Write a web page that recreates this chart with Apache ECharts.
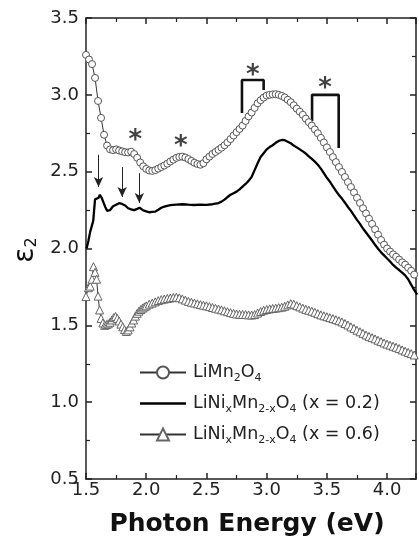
<!DOCTYPE html>
<html>
<head>
<meta charset="utf-8">
<script src="https://cdn.jsdelivr.net/npm/echarts@6/dist/echarts.min.js"></script>
<style>html,body{margin:0;padding:0;background:#fff}#chart{width:419px;height:545px}</style>
</head>
<body>
<div id="chart"></div>
<script>
// photon energy (eV), eps2
var lmo = [[1.500,3.26],[1.525,3.23],[1.550,3.20],[1.575,3.11],[1.600,2.96],[1.625,2.85],[1.650,2.74],[1.675,2.67],
  [1.700,2.645],[1.725,2.64],[1.750,2.645],[1.775,2.638],[1.800,2.632],[1.825,2.627],[1.850,2.625],[1.875,2.63],
  [1.900,2.615],[1.925,2.59],[1.950,2.56],[1.975,2.535],[2.000,2.518],[2.025,2.508],[2.050,2.505],[2.075,2.51],
  [2.100,2.52],[2.125,2.53],[2.150,2.54],[2.175,2.552],[2.200,2.566],[2.225,2.578],[2.250,2.59],[2.275,2.596],
  [2.300,2.598],[2.325,2.592],[2.350,2.582],[2.375,2.57],[2.400,2.558],[2.425,2.55],[2.450,2.545],[2.475,2.555],
  [2.500,2.58],[2.525,2.598],[2.550,2.615],[2.575,2.628],[2.600,2.642],[2.625,2.656],[2.650,2.672],[2.675,2.69],
  [2.700,2.712],[2.725,2.735],[2.750,2.757],[2.775,2.778],[2.800,2.80],[2.825,2.83],[2.850,2.86],[2.875,2.885],
  [2.900,2.915],[2.925,2.945],[2.950,2.965],[2.975,2.982],[3.000,2.995],[3.025,3.0],[3.050,3.003],[3.075,3.004],
  [3.100,3.0],[3.125,2.993],[3.150,2.983],[3.175,2.968],[3.200,2.952],[3.225,2.932],[3.250,2.91],[3.275,2.89],
  [3.300,2.87],[3.325,2.845],[3.350,2.822],[3.375,2.80],[3.400,2.775],[3.425,2.75],[3.450,2.72],[3.475,2.69],
  [3.500,2.658],[3.525,2.628],[3.550,2.595],[3.575,2.562],[3.600,2.53],[3.625,2.498],[3.650,2.465],[3.675,2.432],
  [3.700,2.40],[3.725,2.365],[3.750,2.33],[3.775,2.296],[3.800,2.262],[3.825,2.228],[3.850,2.194],[3.875,2.16],
  [3.900,2.125],[3.925,2.09],[3.950,2.055],[3.975,2.025],[4.000,2.0],[4.025,1.98],[4.050,1.962],[4.075,1.946],
  [4.100,1.928],[4.125,1.91],[4.150,1.895],[4.175,1.875],[4.200,1.855],[4.225,1.83],[4.250,1.81]];

var ni02 = [[1.505,2.00],[1.520,2.05],[1.535,2.11],[1.550,2.10],[1.560,2.18],[1.575,2.32],[1.590,2.32],[1.605,2.33],
  [1.615,2.35],[1.630,2.33],[1.645,2.30],[1.660,2.27],[1.675,2.245],[1.690,2.24],[1.700,2.25],[1.725,2.275],
  [1.750,2.285],[1.775,2.295],[1.800,2.29],[1.825,2.28],[1.850,2.262],[1.875,2.255],[1.900,2.25],[1.925,2.258],
  [1.945,2.265],[1.960,2.255],[1.975,2.248],[2.000,2.242],[2.025,2.236],[2.050,2.238],[2.075,2.24],[2.100,2.252],
  [2.125,2.265],[2.150,2.272],[2.175,2.278],[2.200,2.282],[2.250,2.285],[2.300,2.288],[2.350,2.285],[2.400,2.283],
  [2.450,2.285],[2.500,2.284],[2.550,2.288],[2.600,2.296],[2.625,2.305],[2.650,2.318],[2.675,2.335],[2.700,2.35],
  [2.725,2.36],[2.750,2.37],[2.775,2.385],[2.800,2.403],[2.825,2.42],[2.850,2.44],[2.875,2.465],[2.900,2.51],
  [2.925,2.555],[2.950,2.595],[2.975,2.62],[3.000,2.645],[3.025,2.66],[3.050,2.672],[3.075,2.688],[3.100,2.70],
  [3.125,2.706],[3.150,2.705],[3.175,2.695],[3.200,2.685],[3.225,2.67],[3.250,2.658],[3.275,2.645],[3.300,2.632],
  [3.325,2.618],[3.350,2.60],[3.375,2.583],[3.400,2.565],[3.425,2.545],[3.450,2.52],[3.475,2.49],[3.500,2.46],
  [3.525,2.435],[3.550,2.405],[3.575,2.375],[3.600,2.348],[3.625,2.325],[3.650,2.298],[3.675,2.27],[3.700,2.245],
  [3.725,2.215],[3.750,2.186],[3.775,2.16],[3.800,2.13],[3.825,2.104],[3.850,2.078],[3.875,2.052],[3.900,2.024],
  [3.925,1.998],[3.950,1.975],[3.975,1.955],[4.000,1.935],[4.025,1.915],[4.050,1.893],[4.075,1.875],[4.100,1.86],
  [4.125,1.843],[4.150,1.825],[4.175,1.80],[4.200,1.765],[4.225,1.73],[4.250,1.70]];

var ni06 = [[1.500,1.687],[1.520,1.745],[1.535,1.755],[1.550,1.80],[1.562,1.882],[1.575,1.845],[1.588,1.80],[1.600,1.69],
  [1.613,1.60],[1.625,1.545],[1.640,1.515],[1.655,1.50],[1.670,1.505],[1.685,1.51],[1.700,1.52],[1.715,1.535],
  [1.730,1.55],[1.745,1.558],[1.760,1.545],[1.775,1.528],[1.790,1.508],[1.805,1.49],[1.820,1.472],[1.835,1.46],
  [1.850,1.47],[1.865,1.49],[1.880,1.515],[1.895,1.535],[1.910,1.56],[1.925,1.578],[1.940,1.592],[1.955,1.603],
  [1.970,1.612],[1.985,1.62],[2.000,1.627],[2.025,1.638],[2.050,1.645],[2.075,1.653],[2.100,1.661],[2.125,1.667],
  [2.150,1.671],[2.175,1.675],[2.200,1.678],[2.225,1.681],[2.250,1.683],[2.275,1.679],[2.300,1.672],[2.325,1.664],
  [2.350,1.656],[2.375,1.65],[2.400,1.645],[2.425,1.64],[2.450,1.635],[2.475,1.631],[2.500,1.627],[2.525,1.622],
  [2.550,1.616],[2.575,1.611],[2.600,1.606],[2.625,1.601],[2.650,1.595],[2.675,1.589],[2.700,1.583],[2.725,1.578],
  [2.750,1.574],[2.775,1.572],[2.800,1.571],[2.825,1.57],[2.850,1.568],[2.875,1.567],[2.900,1.57],[2.925,1.58],
  [2.950,1.59],[2.975,1.598],[3.000,1.603],[3.025,1.607],[3.050,1.61],[3.075,1.612],[3.100,1.615],[3.125,1.618],
  [3.150,1.624],[3.175,1.633],[3.200,1.641],[3.225,1.638],[3.250,1.628],[3.275,1.62],[3.300,1.612],[3.325,1.604],
  [3.350,1.598],[3.375,1.592],[3.400,1.585],[3.425,1.576],[3.450,1.568],[3.475,1.562],[3.500,1.556],[3.525,1.55],
  [3.550,1.544],[3.575,1.537],[3.600,1.53],[3.625,1.522],[3.650,1.512],[3.675,1.502],[3.700,1.49],[3.725,1.48],
  [3.750,1.468],[3.775,1.458],[3.800,1.448],[3.825,1.437],[3.850,1.428],[3.875,1.42],[3.900,1.412],[3.925,1.403],
  [3.950,1.394],[3.975,1.385],[4.000,1.378],[4.025,1.371],[4.050,1.364],[4.075,1.357],[4.100,1.349],[4.125,1.34],
  [4.150,1.332],[4.175,1.324],[4.200,1.316],[4.225,1.307],[4.250,1.298]];

// annotations: arrows [E, from, to], asterisks [E, eps2], brackets
var arrows = [[1.604, 2.61, 2.40], [1.80, 2.53, 2.335], [1.943, 2.49, 2.296]];
var stars = [[1.91, 2.726], [2.287, 2.687], [2.885, 3.149], [3.484, 3.064]];
var bracketA = [[2.795, 2.882], [2.795, 3.097], [2.975, 3.097], [2.975, 3.031]];
var bracketB = [[3.377, 2.83], [3.377, 3.0], [3.598, 3.0], [3.598, 2.654]];

var names = ['LiMn2O4', 'LiNixMn2-xO4 (x = 0.2)', 'LiNixMn2-xO4 (x = 0.6)'];
var legendText = {
  'LiMn2O4': '{n|LiMn}{s|2}{n|O}{s|4}',
  'LiNixMn2-xO4 (x = 0.2)': '{n|LiNi}{s|x}{n|Mn}{s|2-x}{n|O}{s|4}{n| (x = 0.2)}',
  'LiNixMn2-xO4 (x = 0.6)': '{n|LiNi}{s|x}{n|Mn}{s|2-x}{n|O}{s|4}{n| (x = 0.6)}'
};

var font = 'DejaVu Sans';
var ink = '#222';

function axisCommon(pos) {
  return {
    axisLine: {show: true, onZero: false, lineStyle: {color: ink, width: 1.5}},
    axisTick: {show: true, inside: true, length: 6, lineStyle: {color: ink, width: 1.5}},
    minorTick: {show: true, splitNumber: 2, length: 4, lineStyle: {color: ink, width: 1.2}},
    splitLine: {show: false},
    position: pos
  };
}

var xBottom = Object.assign(axisCommon('bottom'), {
  type: 'value', min: 1.5, max: 4.24, interval: 0.5,
  axisLabel: {fontFamily: font, fontSize: 18, color: ink, margin: 2,
    formatter: function (v) { return v > 4.1 ? '' : v.toFixed(1); }},
  name: 'Photon Energy (eV)', nameLocation: 'middle', nameGap: 33,
  nameTextStyle: {fontFamily: font, fontSize: 25, fontWeight: 'bold', color: '#111', padding: [0, 8, 0, 0]}
});
var xTop = Object.assign(axisCommon('top'), {
  type: 'value', min: 1.5, max: 4.24, interval: 0.5, axisLabel: {show: false}
});
var yLeft = Object.assign(axisCommon('left'), {
  type: 'value', min: 0.5, max: 3.5, interval: 0.5,
  axisLabel: {fontFamily: font, fontSize: 18, color: ink, margin: 7,
    formatter: function (v) { return v.toFixed(1); }}
});
var yRight = Object.assign(axisCommon('right'), {
  type: 'value', min: 0.5, max: 3.5, interval: 0.5, axisLabel: {show: false}
});

var chart = echarts.init(document.getElementById('chart'), null, {renderer: 'canvas'});
chart.setOption({
  animation: false,
  backgroundColor: '#fff',
  grid: {left: 86, top: 18, right: -1.3, bottom: 66},
  xAxis: [xBottom, xTop],
  yAxis: [yLeft, yRight],
  graphic: [{
    type: 'text', x: 26, y: 250, rotation: Math.PI / 2,
    style: {
      text: '{e|ε}{s|2}', align: 'center', verticalAlign: 'middle',
      rich: {
        e: {fontFamily: font, fontSize: 28, fill: '#111'},
        s: {fontFamily: font, fontSize: 16, fill: '#111', padding: [12, 0, 0, 0]}
      }
    }
  }],
  legend: {
    orient: 'vertical', left: 134, top: 356, itemWidth: 46, itemHeight: 15, itemGap: 8,
    data: [names[0], {name: names[1], icon: 'path://M0,0H46V2.4H0Z'}, names[2]],
    formatter: function (name) { return legendText[name]; },
    textStyle: {
      padding: [0, 0, 0, 2],
      rich: {
        n: {fontFamily: font, fontSize: 17.5, color: ink, lineHeight: 20},
        s: {fontFamily: font, fontSize: 11, color: ink, lineHeight: 12, padding: [12, 0, 0, 0]}
      }
    }
  },
  series: [
    {
      name: names[0], type: 'line', data: lmo, symbol: 'circle', symbolSize: 7, showAllSymbol: true,
      itemStyle: {color: '#fff', borderColor: '#555', borderWidth: 1},
      lineStyle: {color: '#333', width: 1}, z: 3
    },
    {
      name: names[1], type: 'line', data: ni02, showSymbol: false, symbol: 'none',
      itemStyle: {color: '#000'}, lineStyle: {color: '#000', width: 2.3}, z: 2,
      markLine: {
        silent: true, animation: false,
        symbol: ['none', 'arrow'], symbolSize: [7, 10],
        label: {show: false},
        lineStyle: {color: ink, width: 1, type: 'solid'},
        data: arrows.map(function (a) {
          return [{coord: [a[0], a[1]]}, {coord: [a[0], a[2]]}];
        })
      }
    },
    {
      name: names[2], type: 'line', data: ni06, symbol: 'triangle', symbolSize: 8, showAllSymbol: true,
      itemStyle: {color: '#fff', borderColor: '#666', borderWidth: 1},
      lineStyle: {color: '#333', width: 1}, z: 3
    },
    {
      type: 'line', data: bracketA, symbol: 'none', lineStyle: {color: '#111', width: 2.6}, silent: true
    },
    {
      type: 'line', data: bracketB, symbol: 'none', lineStyle: {color: '#111', width: 2.6}, silent: true
    },
    {
      type: 'scatter', data: stars, symbolSize: 1, itemStyle: {color: 'rgba(0,0,0,0)'}, silent: true,
      label: {show: true, position: 'inside', formatter: '*', fontFamily: font, fontSize: 26,
        fontWeight: 'bold', color: '#111', offset: [0, 4]}
    }
  ]
});
</script>
</body>
</html>
